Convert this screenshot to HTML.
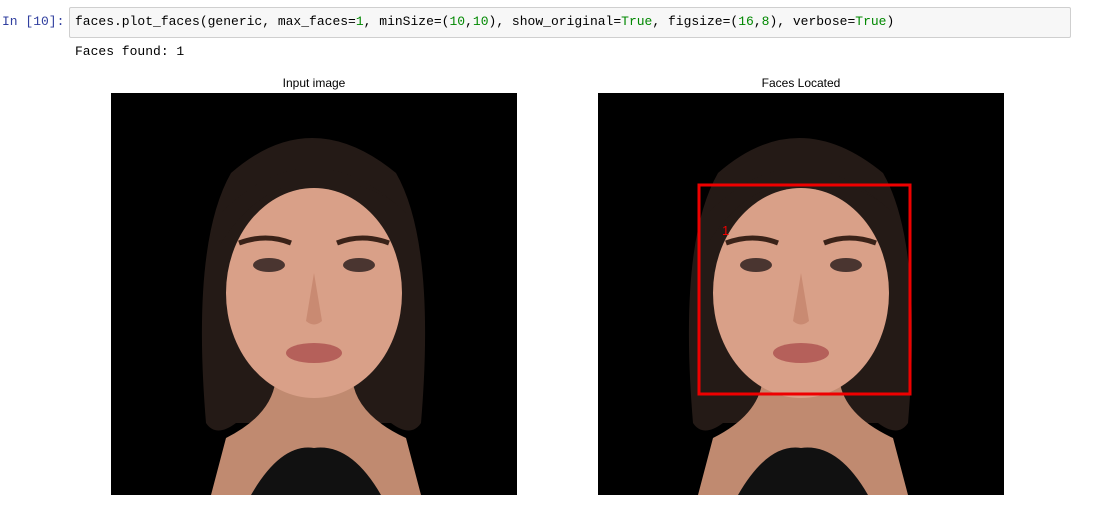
<!DOCTYPE html>
<html><head><style>
body{margin:0;width:1115px;height:508px;background:#fff;position:relative;overflow:hidden;font-family:"Liberation Sans",sans-serif}
.mono{font-family:"Liberation Mono",monospace;font-size:13px;position:absolute}
.cell{position:absolute;left:69px;top:7px;width:1000px;height:29px;background:#f7f7f7;border:1px solid #cfcfcf;border-radius:2px}
.t{position:absolute;font-size:12px;color:#000;width:406px;text-align:center;top:76px}
svg{position:absolute;top:93px}
</style></head><body>
<div class="mono" style="left:2px;top:14px;color:#303f9f">In [10]:</div>
<div class="cell"></div>
<div class="mono" style="left:75px;top:14px;color:#000;white-space:pre">faces.plot_faces(generic, max_faces=<span style="color:#080">1</span>, minSize=(<span style="color:#080">10</span>,<span style="color:#080">10</span>), show_original=<span style="color:#080">True</span>, figsize=(<span style="color:#080">16</span>,<span style="color:#080">8</span>), verbose=<span style="color:#080">True</span>)</div>
<div class="mono" style="left:75px;top:44px;color:#000">Faces found: 1</div>
<div class="t" style="left:111px">Input image</div>
<div class="t" style="left:598px">Faces Located</div>

<svg width="406" height="402" style="left:111px" viewBox="0 0 406 402">
<defs><g id="f">
<rect width="406" height="402" fill="#000"/>
<path d="M95 330 Q80 150 120 80 Q200 10 285 80 Q325 150 310 330 Q300 345 280 330 L125 330 Q105 345 95 330 Z" fill="#241a16"/>
<path d="M100 402 L115 345 Q165 320 165 280 L241 280 Q241 320 295 345 L310 402 Z" fill="#c08a70"/>
<ellipse cx="203" cy="200" rx="88" ry="105" fill="#d9a088"/>
<path d="M110 120 Q200 30 295 120 Q260 85 203 90 Q150 88 110 150 Z" fill="#241a16"/>
<path d="M140 402 Q170 350 203 355 Q240 350 270 402 Z" fill="#111"/>
<path d="M128 150 Q155 140 180 150" stroke="#3a2218" stroke-width="5" fill="none"/>
<path d="M226 150 Q251 140 278 150" stroke="#3a2218" stroke-width="5" fill="none"/>
<ellipse cx="158" cy="172" rx="16" ry="7" fill="#4a3530"/>
<ellipse cx="248" cy="172" rx="16" ry="7" fill="#4a3530"/>
<path d="M203 180 L195 228 Q203 235 211 228 Z" fill="#c98a72"/>
<ellipse cx="203" cy="260" rx="28" ry="10" fill="#b5605a"/>
</g></defs>
<use href="#f"/>
</svg>
<svg width="406" height="402" style="left:598px" viewBox="0 0 406 402">
<use href="#f"/>
<rect x="101" y="92" width="211" height="209" fill="none" stroke="#e00" stroke-width="3"/>
<text x="124" y="142" fill="#e00" font-size="13" font-family="Liberation Sans">1</text>
</svg>
</body></html>
